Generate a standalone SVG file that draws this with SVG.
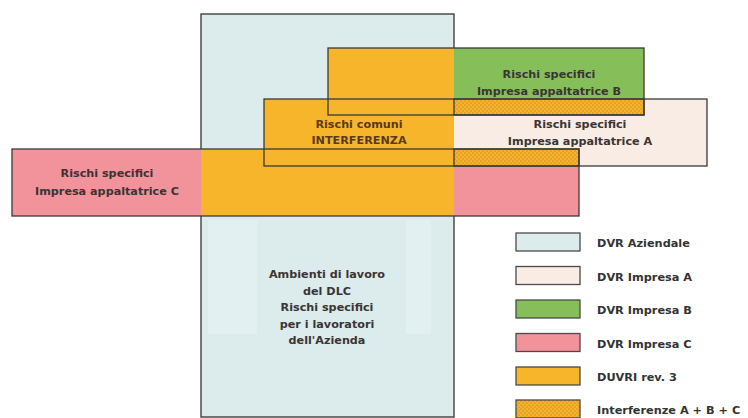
<svg xmlns="http://www.w3.org/2000/svg" width="748" height="418" viewBox="0 0 748 418">
  <defs>
    <pattern id="dots" patternUnits="userSpaceOnUse" width="4" height="4">
      <rect width="4" height="4" fill="#f6b22c"/>
      <circle cx="1" cy="1" r="0.6" fill="#a8701a"/>
      <circle cx="3" cy="3" r="0.6" fill="#a8701a"/>
    </pattern>
    <style>
      .ol { fill: none; stroke: #3a3a3a; stroke-width: 1.3; }
      .sw { stroke: #4a4a4a; stroke-width: 1.3; }
      .t { font-family: "DejaVu Sans", Verdana, sans-serif; font-weight: bold; font-size: 11.2px; fill: #3b3434; text-anchor: middle; }
      .lg { font-family: "DejaVu Sans", Verdana, sans-serif; font-weight: bold; font-size: 11.3px; fill: #333; }
      .az { fill: #dcebeb; }
      .ia { fill: #f8ece4; }
      .ib { fill: #86bf5a; }
      .ic { fill: #f2929a; }
      .du { fill: #f7b52c; }
      .dt { fill: url(#dots); }
    </style>
  </defs>

  <g id="dvr-aziendale">
    <rect class="az" x="201" y="14" width="253" height="403" stroke="#333" stroke-width="1.3"/>
    <rect x="208" y="220" width="49" height="114" fill="#e3f0f2"/>
    <rect x="406" y="220" width="25" height="114" fill="#e3f0f2"/>
  </g>

  <g id="impresa-c">
    <rect class="ic" x="12" y="149" width="567" height="67"/>
  </g>
  <g id="impresa-a">
    <rect class="ia" x="264" y="99" width="443" height="67"/>
  </g>
  <g id="impresa-b">
    <rect class="ib" x="328" y="48" width="316" height="67"/>
  </g>

  <g id="duvri">
    <path class="du" d="M328,48 H454 V216 H201 V149 H264 V99 H328 Z"/>
  </g>

  <g id="interferenze">
    <rect class="dt" x="454" y="99" width="190" height="16" stroke="#3a3a3a" stroke-width="1.3"/>
    <rect class="dt" x="454" y="149" width="125" height="17" stroke="#3a3a3a" stroke-width="1.3"/>
  </g>

  <g id="outlines">
    <rect class="ol" x="328" y="48" width="316" height="67"/>
    <rect class="ol" x="264" y="99" width="443" height="67"/>
    <rect class="ol" x="12" y="149" width="567" height="67"/>
  </g>

  <g id="labels">
    <text class="t" x="549" y="78">Rischi specifici</text>
    <text class="t" x="549" y="95">Impresa appaltatrice B</text>
    <text class="t" x="580" y="128">Rischi specifici</text>
    <text class="t" x="580" y="145">Impresa appaltatrice A</text>
    <text class="t" x="359" y="128" style="fill:#5a3a1c">Rischi comuni</text>
    <text class="t" x="359" y="144" style="fill:#5a3a1c">INTERFERENZA</text>
    <text class="t" x="107" y="177">Rischi specifici</text>
    <text class="t" x="107" y="195">Impresa appaltatrice C</text>
    <text class="t" x="327" y="278">Ambienti di lavoro</text>
    <text class="t" x="327" y="295">del DLC</text>
    <text class="t" x="327" y="311">Rischi specifici</text>
    <text class="t" x="327" y="328">per i lavoratori</text>
    <text class="t" x="327" y="344">dell'Azienda</text>
  </g>

  <g id="legend">
    <g id="leg-aziendale">
      <rect class="az sw" x="516" y="233" width="64" height="18"/>
      <text class="lg" x="597" y="247">DVR Aziendale</text>
    </g>
    <g id="leg-a">
      <rect class="ia sw" x="516" y="266.5" width="64" height="18"/>
      <text class="lg" x="597" y="280.5">DVR Impresa A</text>
    </g>
    <g id="leg-b">
      <rect class="ib sw" x="516" y="300" width="64" height="18"/>
      <text class="lg" x="597" y="314">DVR Impresa B</text>
    </g>
    <g id="leg-c">
      <rect class="ic sw" x="516" y="333.5" width="64" height="18"/>
      <text class="lg" x="597" y="347.5">DVR Impresa C</text>
    </g>
    <g id="leg-duvri">
      <rect class="du sw" x="516" y="367" width="64" height="18"/>
      <text class="lg" x="597" y="381">DUVRI rev. 3</text>
    </g>
    <g id="leg-interf">
      <rect class="dt sw" x="516" y="400" width="64" height="18"/>
      <text class="lg" x="597" y="414">Interferenze A + B + C</text>
    </g>
  </g>
</svg>
